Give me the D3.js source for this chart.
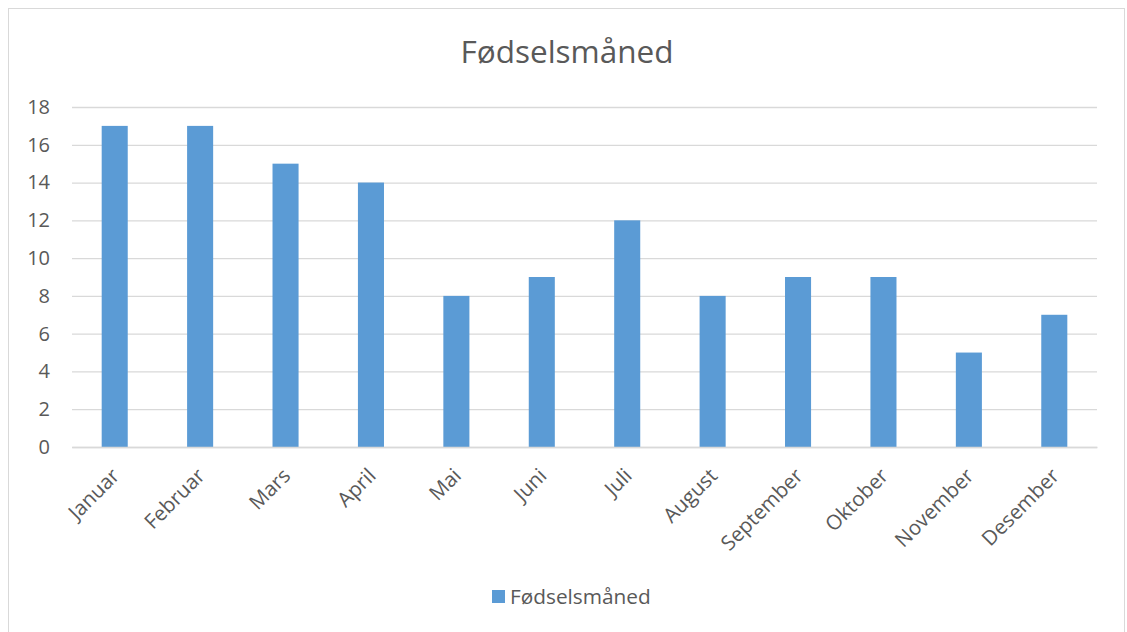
<!DOCTYPE html>
<html><head><meta charset="utf-8">
<script src="https://cdn.jsdelivr.net/npm/d3@7"></script>
<style>body{margin:0;background:#fff;} text{font-family:"Open Sans","Liberation Sans",sans-serif;}</style>
</head><body>
<svg id="c" width="1127" height="632"></svg>
<script>
const categories = ["Januar","Februar","Mars","April","Mai","Juni","Juli","August","September","Oktober","November","Desember"];
const values = [17,17,15,14,8,9,12,8,9,9,5,7];
const yTicks = [0,2,4,6,8,10,12,14,16,18];
const seriesName = "Fødselsmåned";
const title = "Fødselsmåned";

const svg = d3.select("#c");
svg.append("rect").attr("x",8.5).attr("y",8.5).attr("width",1116).attr("height",630)
  .attr("fill","#fff").attr("stroke","#d9d9d9");

const pL=72, pR=1097, pT=107, pB=447;
const x = d3.scaleBand().domain(categories).range([pL,pR]).paddingInner(0.695).paddingOuter(0.3475);
const y = d3.scaleLinear().domain([0,18]).range([pB,pT]);

svg.append("text").attr("x",567).attr("y",52).attr("dy","0.35em").attr("text-anchor","middle")
  .attr("font-size",31.5).attr("fill","#595959").text(title);

const ya = svg.append("g").attr("transform",`translate(${pL},0)`)
  .call(d3.axisLeft(y).tickValues(yTicks).tickSize(-(pR-pL)).tickPadding(22));
ya.select(".domain").remove();
ya.selectAll(".tick line").attr("stroke","#d9d9d9").attr("stroke-width",1.3);
ya.selectAll(".tick text").attr("font-size",20).attr("fill","#595959");

svg.append("g").selectAll("rect").data(values).join("rect")
  .attr("x",(d,i)=>x(categories[i])).attr("width",x.bandwidth())
  .attr("y",d=>y(d)).attr("height",d=>pB-y(d)).attr("fill","#5b9bd5");

const xa = svg.append("g").attr("transform",`translate(0,${pB})`)
  .call(d3.axisBottom(x).tickSize(0).tickPadding(0));
xa.select(".domain").attr("stroke","#d9d9d9").attr("stroke-width",1.3);
xa.selectAll(".tick text").attr("font-size",20.5).attr("fill","#595959")
  .attr("text-anchor","end").attr("dy","0.35em")
  .attr("transform","translate(1,25) rotate(-45)");

const lg = svg.append("g");
lg.append("rect").attr("x",492).attr("y",590).attr("width",13).attr("height",13).attr("fill","#5b9bd5");
lg.append("text").attr("x",510).attr("y",597).attr("dy","0.35em").attr("font-size",20.8).attr("fill","#595959").text(seriesName);
</script>
</body></html>
